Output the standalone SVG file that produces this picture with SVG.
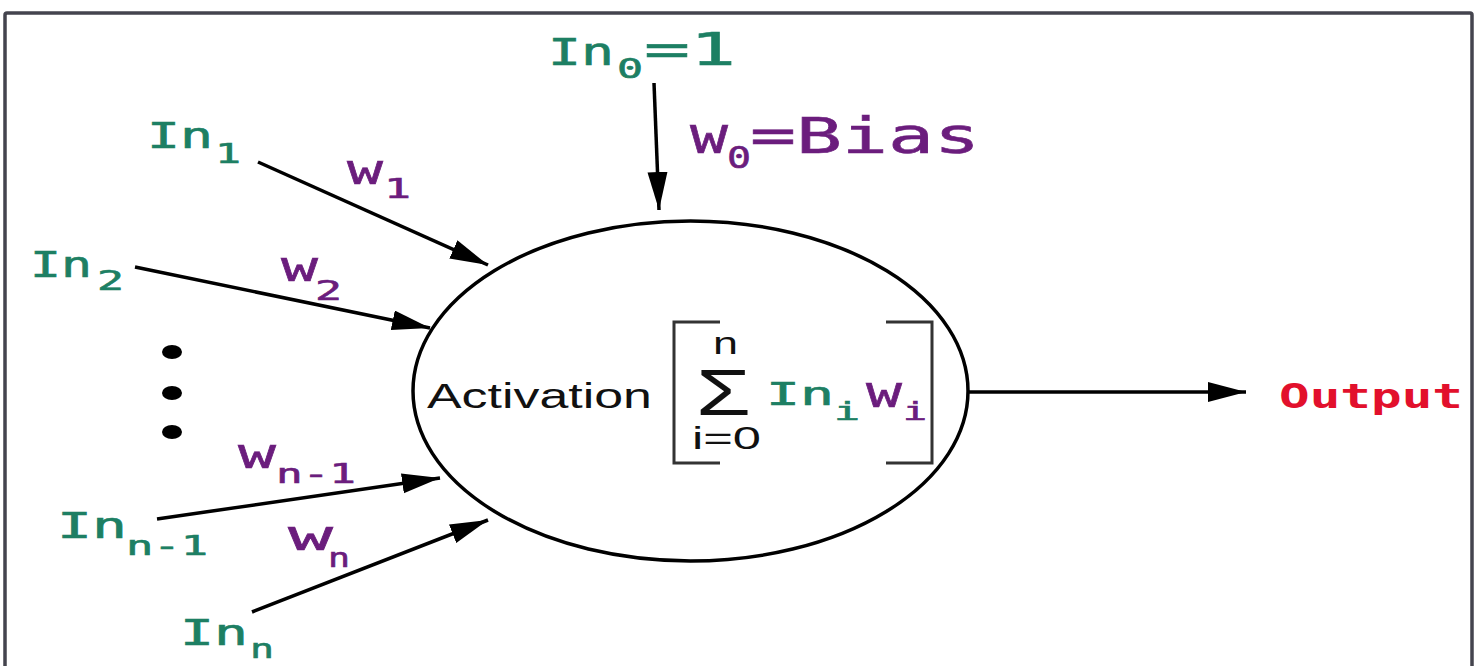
<svg xmlns="http://www.w3.org/2000/svg" width="1479" height="666" viewBox="0 0 1479 666">
<style>
.m{font-family:"DejaVu Sans Mono","Liberation Mono",monospace;}
.s{font-family:"Liberation Sans",Arial,sans-serif;fill:#111;}
.g{fill:#1d7f63;stroke:#1d7f63;stroke-width:0.6;}
.p{fill:#6b1d7d;stroke:#6b1d7d;stroke-width:0.6;}
.r{fill:#e2102c;font-weight:bold;}
.ln{stroke:#000;stroke-width:3.5;fill:none;}
</style>
<defs>
<marker id="ah" markerUnits="userSpaceOnUse" markerWidth="40" markerHeight="22" refX="38" refY="10" orient="auto">
<path d="M0,0 L38,10 L0,20 z" fill="#000"/>
</marker>
</defs>
<rect x="0" y="0" width="1479" height="666" fill="#fff"/>
<rect id="frame" x="5" y="13" width="1467" height="700" rx="2" fill="#fff" stroke="#44444e" stroke-width="3.5"/>

<g id="connectors" class="ln">
<line x1="654" y1="83" x2="659" y2="210" marker-end="url(#ah)"/>
<line x1="258" y1="162" x2="488" y2="265" marker-end="url(#ah)"/>
<line x1="135" y1="267" x2="430" y2="328" marker-end="url(#ah)"/>
<line x1="157" y1="519" x2="440" y2="478" marker-end="url(#ah)"/>
<line x1="252" y1="612" x2="488" y2="520" marker-end="url(#ah)"/>
<line x1="968" y1="392" x2="1246" y2="392" marker-end="url(#ah)"/>
</g>

<g id="neuron">
<ellipse cx="690.5" cy="391" rx="277.5" ry="170" fill="none" stroke="#000" stroke-width="3.5"/>
<text class="s" x="427" y="408" font-size="35" textLength="225" lengthAdjust="spacingAndGlyphs">Activation</text>
<path d="M720,322 H674 V463 H720" fill="none" stroke="#333" stroke-width="3"/>
<path d="M886,322 H932 V463 H886" fill="none" stroke="#333" stroke-width="3"/>
<text class="s" x="713" y="354" font-size="32" textLength="25" lengthAdjust="spacingAndGlyphs">n</text>
<text class="s" x="696" y="415" font-size="64" textLength="55" lengthAdjust="spacingAndGlyphs">Σ</text>
<text class="s" x="692" y="449" font-size="32" textLength="69" lengthAdjust="spacingAndGlyphs">i=0</text>
<text class="m g" x="766" y="405" font-size="32" textLength="68" lengthAdjust="spacingAndGlyphs">In</text>
<text class="m g" x="834" y="420" font-size="24" textLength="26" lengthAdjust="spacingAndGlyphs">i</text>
<text class="m p" x="866" y="407" font-size="44" textLength="36" lengthAdjust="spacingAndGlyphs">w</text>
<text class="m p" x="903" y="420" font-size="24" textLength="24" lengthAdjust="spacingAndGlyphs">i</text>
</g>

<g id="in0">
<text class="m g" x="548" y="65" font-size="38" textLength="66" lengthAdjust="spacingAndGlyphs">In</text>
<text class="m g" x="617" y="78" font-size="26" textLength="26" lengthAdjust="spacingAndGlyphs">0</text>
<text class="m g" x="644" y="65" font-size="45" textLength="92" lengthAdjust="spacingAndGlyphs">=1</text>
</g>
<g id="w0">
<text class="m p" x="690" y="153" font-size="51" textLength="38" lengthAdjust="spacingAndGlyphs">w</text>
<text class="m p" x="727" y="168" font-size="30" textLength="24" lengthAdjust="spacingAndGlyphs">0</text>
<text class="m p" x="750" y="153" font-size="50" textLength="230" lengthAdjust="spacingAndGlyphs">=Bias</text>
</g>
<g id="in1">
<text class="m g" x="147" y="148" font-size="35" textLength="66" lengthAdjust="spacingAndGlyphs">In</text>
<text class="m g" x="215" y="163" font-size="27" textLength="26" lengthAdjust="spacingAndGlyphs">1</text>
</g>
<g id="w1">
<text class="m p" x="347" y="184" font-size="43" textLength="36" lengthAdjust="spacingAndGlyphs">w</text>
<text class="m p" x="384" y="198" font-size="27" textLength="27" lengthAdjust="spacingAndGlyphs">1</text>
</g>
<g id="in2">
<text class="m g" x="30" y="277" font-size="36" textLength="62" lengthAdjust="spacingAndGlyphs">In</text>
<text class="m g" x="97" y="290" font-size="27" textLength="27" lengthAdjust="spacingAndGlyphs">2</text>
</g>
<g id="w2">
<text class="m p" x="281" y="281" font-size="43" textLength="37" lengthAdjust="spacingAndGlyphs">w</text>
<text class="m p" x="315" y="300" font-size="27" textLength="27" lengthAdjust="spacingAndGlyphs">2</text>
</g>
<g id="dots" fill="#000">
<ellipse cx="172" cy="352" rx="10" ry="7"/>
<ellipse cx="172" cy="393" rx="10" ry="7"/>
<ellipse cx="172" cy="432" rx="10" ry="7"/>
</g>
<g id="wn1">
<text class="m p" x="238" y="468" font-size="43" textLength="38" lengthAdjust="spacingAndGlyphs">w</text>
<text class="m p" x="276" y="483" font-size="27" textLength="80" lengthAdjust="spacingAndGlyphs">n-1</text>
</g>
<g id="inn1">
<text class="m g" x="57" y="538" font-size="36" textLength="70" lengthAdjust="spacingAndGlyphs">In</text>
<text class="m g" x="126" y="555" font-size="27" textLength="82" lengthAdjust="spacingAndGlyphs">n-1</text>
</g>
<g id="wn">
<text class="m p" x="288" y="550" font-size="43" textLength="45" lengthAdjust="spacingAndGlyphs">w</text>
<text class="m p" x="328" y="567" font-size="27" textLength="22" lengthAdjust="spacingAndGlyphs">n</text>
</g>
<g id="inn">
<text class="m g" x="180" y="645" font-size="36" textLength="68" lengthAdjust="spacingAndGlyphs">In</text>
<text class="m g" x="250" y="658" font-size="27" textLength="24" lengthAdjust="spacingAndGlyphs">n</text>
</g>
<g id="output">
<text class="m r" x="1279" y="408" font-size="34" textLength="184" lengthAdjust="spacingAndGlyphs">Output</text>
</g>
</svg>
